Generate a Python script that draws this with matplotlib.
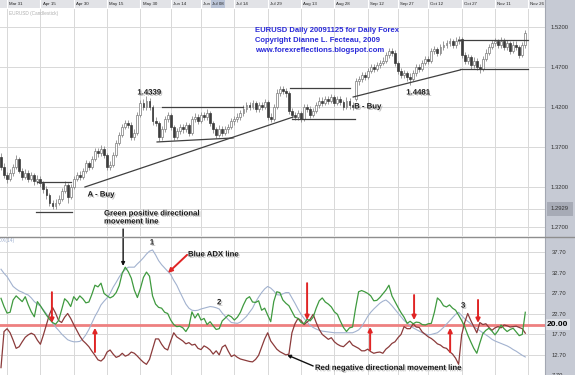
import numpy as np
import pandas as pd
import matplotlib
matplotlib.use("Agg")
import matplotlib.pyplot as plt
import matplotlib.patheffects as pe
from matplotlib.patches import Rectangle
from matplotlib.lines import Line2D

plt.rcParams['font.family'] = ['Liberation Sans', 'DejaVu Sans']

# EURUSD daily candles, 27 Mar 2009 .. 25 Nov 2009
opens = [
    1.358, 1.345, 1.335, 1.330, 1.338, 1.345, 1.355, 1.340, 1.333, 1.338,
    1.330, 1.335, 1.327, 1.330, 1.325, 1.318, 1.310, 1.300, 1.296, 1.300,
    1.305, 1.315, 1.322, 1.308, 1.320, 1.330, 1.335, 1.333, 1.340, 1.350,
    1.345, 1.355, 1.365, 1.362, 1.368, 1.360, 1.345, 1.348, 1.360, 1.375,
    1.385, 1.395, 1.400, 1.398, 1.383, 1.388, 1.410, 1.425, 1.420, 1.428,
    1.420, 1.402, 1.400, 1.382, 1.392, 1.405, 1.410, 1.395, 1.383, 1.390,
    1.395, 1.392, 1.397, 1.388, 1.405, 1.408, 1.403, 1.410, 1.408, 1.412,
    1.400, 1.392, 1.385, 1.393, 1.388, 1.392, 1.395, 1.402, 1.405, 1.408,
    1.412, 1.418, 1.422, 1.420, 1.425, 1.418, 1.422, 1.420, 1.426, 1.408,
    1.405, 1.420, 1.438, 1.442, 1.440, 1.437, 1.415, 1.410, 1.408, 1.412,
    1.405, 1.420, 1.418, 1.410, 1.415, 1.422, 1.428, 1.425, 1.430, 1.428,
    1.432, 1.425, 1.430, 1.426, 1.420, 1.428, 1.422, 1.430, 1.452, 1.455,
    1.460, 1.458, 1.465, 1.470, 1.468, 1.472, 1.475, 1.478, 1.485, 1.490,
    1.488, 1.475, 1.465, 1.460, 1.462, 1.458, 1.455, 1.462, 1.470, 1.468,
    1.475, 1.480, 1.478, 1.490, 1.492, 1.488, 1.495, 1.498, 1.500, 1.502,
    1.498, 1.503, 1.505, 1.485, 1.478, 1.482, 1.472, 1.478, 1.470, 1.468,
    1.480, 1.488, 1.495, 1.500, 1.502, 1.498, 1.503, 1.495, 1.500, 1.490,
    1.498, 1.495, 1.485, 1.497]
highs = [
    1.362, 1.350, 1.339, 1.342, 1.349, 1.360, 1.358, 1.344, 1.342, 1.341,
    1.339, 1.338, 1.335, 1.334, 1.328, 1.321, 1.313, 1.304, 1.305, 1.310,
    1.319, 1.327, 1.325, 1.324, 1.334, 1.339, 1.340, 1.344, 1.354, 1.353,
    1.359, 1.369, 1.369, 1.372, 1.371, 1.363, 1.353, 1.364, 1.379, 1.389,
    1.399, 1.404, 1.404, 1.401, 1.393, 1.414, 1.429, 1.430, 1.4339, 1.431,
    1.423, 1.407, 1.403, 1.396, 1.409, 1.414, 1.413, 1.398, 1.394, 1.399,
    1.399, 1.401, 1.400, 1.409, 1.412, 1.411, 1.414, 1.414, 1.417, 1.415,
    1.403, 1.395, 1.397, 1.396, 1.396, 1.399, 1.406, 1.409, 1.412, 1.416,
    1.422, 1.426, 1.426, 1.429, 1.428, 1.426, 1.426, 1.430, 1.429, 1.412,
    1.424, 1.442, 1.446, 1.446, 1.444, 1.440, 1.419, 1.414, 1.416, 1.415,
    1.424, 1.424, 1.421, 1.419, 1.426, 1.432, 1.432, 1.434, 1.434, 1.436,
    1.435, 1.434, 1.434, 1.429, 1.432, 1.431, 1.426, 1.456, 1.459, 1.464,
    1.464, 1.469, 1.474, 1.474, 1.476, 1.479, 1.482, 1.489, 1.494, 1.494,
    1.491, 1.478, 1.469, 1.466, 1.465, 1.462, 1.466, 1.474, 1.474, 1.479,
    1.484, 1.484, 1.494, 1.496, 1.495, 1.499, 1.502, 1.504, 1.506, 1.505,
    1.507, 1.509, 1.508, 1.489, 1.486, 1.485, 1.482, 1.481, 1.474, 1.484,
    1.492, 1.499, 1.504, 1.506, 1.505, 1.507, 1.506, 1.504, 1.503, 1.502,
    1.502, 1.498, 1.501, 1.516]
lows = [
    1.341, 1.331, 1.325, 1.327, 1.334, 1.342, 1.337, 1.329, 1.330, 1.326,
    1.327, 1.323, 1.324, 1.320, 1.313, 1.305, 1.296, 1.2929, 1.293, 1.297,
    1.302, 1.312, 1.300, 1.305, 1.317, 1.327, 1.329, 1.330, 1.337, 1.341,
    1.342, 1.352, 1.358, 1.359, 1.356, 1.341, 1.341, 1.345, 1.357, 1.372,
    1.382, 1.392, 1.394, 1.379, 1.379, 1.385, 1.407, 1.416, 1.416, 1.416,
    1.398, 1.396, 1.378, 1.379, 1.389, 1.401, 1.391, 1.379, 1.380, 1.386,
    1.388, 1.389, 1.384, 1.385, 1.401, 1.399, 1.400, 1.404, 1.404, 1.396,
    1.388, 1.381, 1.382, 1.384, 1.385, 1.388, 1.392, 1.398, 1.401, 1.404,
    1.409, 1.414, 1.416, 1.417, 1.414, 1.414, 1.416, 1.417, 1.404, 1.401,
    1.402, 1.417, 1.434, 1.436, 1.433, 1.411, 1.406, 1.404, 1.404, 1.401,
    1.402, 1.414, 1.406, 1.407, 1.412, 1.419, 1.421, 1.422, 1.424, 1.425,
    1.421, 1.422, 1.422, 1.416, 1.417, 1.418, 1.416, 1.428, 1.448, 1.451,
    1.454, 1.455, 1.462, 1.464, 1.465, 1.469, 1.472, 1.475, 1.481, 1.484,
    1.471, 1.461, 1.456, 1.456, 1.453, 1.4481, 1.452, 1.459, 1.464, 1.465,
    1.472, 1.474, 1.475, 1.486, 1.484, 1.485, 1.491, 1.494, 1.496, 1.494,
    1.494, 1.499, 1.481, 1.474, 1.474, 1.468, 1.469, 1.466, 1.463, 1.465,
    1.477, 1.485, 1.492, 1.496, 1.494, 1.494, 1.491, 1.491, 1.486, 1.487,
    1.491, 1.481, 1.482, 1.494]
closes = [
    1.345, 1.335, 1.330, 1.338, 1.345, 1.355, 1.340, 1.333, 1.338, 1.330,
    1.335, 1.327, 1.330, 1.325, 1.318, 1.310, 1.300, 1.296, 1.300, 1.305,
    1.315, 1.322, 1.308, 1.320, 1.330, 1.335, 1.333, 1.340, 1.350, 1.345,
    1.355, 1.365, 1.362, 1.368, 1.360, 1.345, 1.348, 1.360, 1.375, 1.385,
    1.395, 1.400, 1.398, 1.383, 1.388, 1.410, 1.425, 1.420, 1.428, 1.420,
    1.402, 1.400, 1.382, 1.392, 1.405, 1.410, 1.395, 1.383, 1.390, 1.395,
    1.392, 1.397, 1.388, 1.405, 1.408, 1.403, 1.410, 1.408, 1.412, 1.400,
    1.392, 1.385, 1.393, 1.388, 1.392, 1.395, 1.402, 1.405, 1.408, 1.412,
    1.418, 1.422, 1.420, 1.425, 1.418, 1.422, 1.420, 1.426, 1.408, 1.405,
    1.420, 1.438, 1.442, 1.440, 1.437, 1.415, 1.410, 1.408, 1.412, 1.405,
    1.420, 1.418, 1.410, 1.415, 1.422, 1.428, 1.425, 1.430, 1.428, 1.432,
    1.425, 1.430, 1.426, 1.420, 1.428, 1.422, 1.420, 1.452, 1.455, 1.460,
    1.458, 1.465, 1.470, 1.468, 1.472, 1.475, 1.478, 1.485, 1.490, 1.488,
    1.475, 1.465, 1.460, 1.462, 1.458, 1.455, 1.462, 1.470, 1.468, 1.475,
    1.480, 1.478, 1.490, 1.492, 1.488, 1.495, 1.498, 1.500, 1.502, 1.498,
    1.503, 1.505, 1.485, 1.478, 1.482, 1.472, 1.478, 1.470, 1.468, 1.480,
    1.488, 1.495, 1.500, 1.502, 1.498, 1.503, 1.495, 1.500, 1.490, 1.498,
    1.495, 1.485, 1.497, 1.512]

# DMI(14)
plus_di = [
    26.4, 24.4, 22.8, 23.0, 26.0, 27.0, 26.3, 25.6, 26.8, 24.8,
    23.1, 21.9, 25.6, 24.6, 23.4, 22.3, 21.3, 20.5, 20.1, 21.0,
    23.6, 26.3, 25.6, 24.4, 26.8, 25.9, 27.0, 26.3, 25.3, 25.5,
    27.4, 29.6, 29.2, 30.1, 27.6, 27.0, 26.5, 26.9, 27.8, 29.5,
    32.5, 34.0, 32.9, 31.3, 28.4, 26.6, 28.8, 31.5, 32.8, 31.8,
    27.0, 25.0, 24.2, 24.0, 23.0, 22.7, 21.1, 20.0, 19.5, 19.6,
    19.2, 18.3, 19.5, 23.1, 21.6, 22.7, 21.1, 21.5, 20.0, 20.7,
    19.7, 18.8, 19.0, 20.9, 21.6, 22.3, 21.9, 21.1, 21.8, 23.0,
    24.8, 26.3, 26.8, 25.5, 25.4, 25.8, 23.5, 24.0, 22.3, 20.7,
    25.6, 28.0, 27.8, 26.0, 25.2, 24.6, 23.2, 21.8, 21.5, 20.5,
    20.2, 21.3, 20.9, 21.8, 24.0, 25.8, 26.5, 25.5, 25.0, 24.3,
    23.1, 22.5, 20.8, 19.3, 18.3, 19.2, 19.4, 24.0, 28.0, 28.3,
    28.0, 27.6, 27.0, 25.8, 25.9, 26.6, 27.5, 28.4, 29.6, 27.0,
    25.6, 24.2, 22.9, 21.8, 20.3, 20.8, 20.2, 20.6, 20.5, 20.0,
    19.9, 20.2, 20.3, 23.0, 26.5, 25.8, 24.6, 24.3, 24.8, 24.0,
    23.5, 22.3, 21.0, 19.5, 17.5, 15.8, 14.2, 13.0, 15.5, 17.8,
    18.6, 19.1, 18.4, 17.5, 18.5, 19.9, 19.0, 18.3, 18.8, 19.1,
    18.2, 17.3, 17.6, 23.0]
minus_di = [
    9.5, 18.3, 19.0, 18.0, 16.2, 14.2, 14.6, 15.8, 16.9, 17.5,
    17.9, 17.5, 16.2, 15.2, 17.5, 20.0, 22.5, 24.2, 22.8, 21.0,
    20.5, 21.8, 22.7, 21.5, 20.0, 18.6, 17.2, 16.1, 15.4, 14.6,
    13.5, 12.5, 11.4, 11.1, 11.8, 13.3, 13.8, 12.8, 12.0, 12.3,
    13.0, 12.3, 12.6, 13.3, 13.0, 12.3, 11.5, 10.8, 10.3, 11.5,
    14.0, 16.5, 16.5, 15.2, 14.2, 13.8, 16.0, 18.0, 17.0, 16.5,
    16.0, 15.3, 15.6, 15.0, 15.2, 14.2, 13.9, 14.8, 14.4, 13.8,
    12.8, 13.6, 12.6, 14.5, 15.0, 13.5, 12.2, 12.6, 12.0, 11.6,
    11.4, 11.2, 11.0, 10.9, 11.5, 12.5, 14.5, 16.5, 18.0, 16.0,
    15.0, 14.0, 13.4, 13.0, 12.6, 12.8, 18.0, 20.2, 21.5, 21.0,
    20.0, 20.6, 21.3, 22.5, 20.5, 18.8, 17.6, 17.0, 16.4, 16.8,
    15.8, 15.2, 14.8, 14.6, 15.3, 16.0, 15.0, 14.6, 14.2, 13.6,
    13.6, 14.0, 13.4, 13.0, 13.2, 13.3, 13.0, 14.0, 14.6, 15.4,
    15.8, 16.8, 17.6, 19.5, 19.0, 19.0, 20.2, 19.4, 19.3, 18.2,
    17.6, 17.0, 16.6, 16.0, 15.3, 15.0, 14.4, 14.2, 13.4, 12.8,
    11.8, 10.3, 17.5, 20.5, 22.7, 21.0, 19.5, 18.0, 20.5, 20.0,
    20.2, 19.3, 18.6, 19.2, 19.5, 19.2, 19.9, 19.7, 19.4, 19.5,
    19.6, 19.3, 19.0, 17.9]
adx = [
    33.5, 32.5, 31.7, 30.5, 29.3, 28.7, 28.2, 27.9, 27.5, 27.2,
    26.5, 25.6, 25.0, 24.5, 23.6, 22.6, 21.7, 20.4, 19.4, 18.6,
    17.7, 17.0, 16.3, 16.0, 15.8, 15.8, 15.9, 16.5, 17.5, 18.8,
    20.4, 22.0, 23.3, 24.8, 25.7, 26.5, 27.6, 29.1, 30.3, 31.6,
    32.7, 33.4, 34.0, 34.0, 34.0, 34.8, 35.5, 36.3, 37.2, 37.9,
    38.2, 37.0, 35.6, 34.6, 33.8, 33.0, 32.2, 30.8, 29.6, 28.0,
    26.5, 25.0, 24.0, 23.5, 23.4, 23.5, 23.8, 24.0, 24.2, 24.4,
    24.3, 24.1, 23.8, 22.8, 22.0, 21.2, 20.5, 20.4, 20.3, 20.6,
    21.3, 22.0, 23.0, 24.0, 25.5, 26.7, 27.8, 28.7, 29.3, 28.9,
    28.2, 27.3, 27.2, 27.5, 27.8, 27.8, 26.5, 25.2, 23.8, 22.5,
    21.5, 20.6, 19.8, 19.3, 18.9, 18.6, 18.4, 18.3, 18.2, 18.1,
    18.0, 18.0, 18.0, 18.0, 18.0, 18.0, 18.0, 18.3, 18.7, 19.5,
    20.7, 22.0, 23.0, 23.8, 24.5, 25.2, 25.7, 26.0, 25.4, 24.6,
    23.7, 22.8, 21.9, 21.0, 20.4, 19.8, 19.2, 18.8, 18.4, 18.0,
    17.7, 17.5, 17.6, 17.8, 18.0, 18.6, 19.3, 20.1, 20.9, 21.7,
    22.5, 23.0, 22.2, 21.4, 20.8, 20.2, 19.5, 19.0, 18.5, 18.0,
    17.5, 17.0, 16.4, 16.0, 15.7, 15.4, 15.1, 14.8, 14.4, 13.9,
    13.5, 13.0, 12.5, 12.1]

price_ticks = [1.27, 1.32, 1.37, 1.42, 1.47, 1.52]
dmi_ticks = [7.7, 12.7, 17.7, 22.7, 27.7, 32.7, 37.7]
date_labels = ['Mar 31', 'Apr 15', 'Apr 30', 'May 15', 'May 30', 'Jun 14', 'Jun 29', 'Jul 14',
               'Jul 29', 'Aug 13', 'Aug 28', 'Sep 12', 'Sep 27', 'Oct 12', 'Oct 27', 'Nov 11', 'Nov 26']

n = len(closes)
idx = np.arange(n)
dates = pd.bdate_range('2009-03-27', periods=n + 10)
tick_pos = dates.searchsorted(pd.to_datetime([d + ' 2009' for d in date_labels], format='%b %d %Y'))
jul08 = dates.searchsorted(pd.Timestamp('2009-07-08'))

W, H = 575, 375
fig = plt.figure(figsize=(W / 100, H / 100), dpi=100)
fig.patch.set_facecolor('white')

def fx(px):
    return px / W

def fy(py):
    return 1 - py / H

ax = fig.add_axes([0, fy(236), fx(545), (236 - 8) / H])
ax2 = fig.add_axes([0, 0, fx(545), (375 - 237) / H])

# right hand axis column + panel separator
fig.add_artist(Rectangle((fx(545), 0), fx(30), 1, transform=fig.transFigure,
                         fc='#c6cad4', ec='none', zorder=-1))
fig.add_artist(Line2D([fx(545), fx(545)], [0, 1], transform=fig.transFigure, color='#a3a7b2', lw=0.8))
fig.add_artist(Line2D([0, 1], [fy(236.5)] * 2, transform=fig.transFigure, color='#8e8e8e', lw=1.0))

xlim = (-0.33, 179.5)
grid_c = '#d8d8d8'

# ---- price panel
o = np.array(opens)
c = np.array(closes)
up = c >= o
ax.vlines(idx, lows, highs, color='#8a8a8a', lw=0.6, zorder=2)
ax.bar(idx[up], (c - o)[up], bottom=o[up], width=0.62, color='white', edgecolor='#7a7a7a', lw=0.5, zorder=3)
ax.bar(idx[~up], (o - c)[~up], bottom=c[~up], width=0.62, color='#3c3c3c', edgecolor='#3c3c3c', lw=0.5, zorder=3)

ax.set_xlim(*xlim)
ax.set_ylim(1.25875, 1.54375)
ax.set_xticks([])
ax.set_yticks(price_ticks)
ax.yaxis.tick_right()
ax.yaxis.set_major_formatter(matplotlib.ticker.FormatStrFormatter('%.4f'))
ax.tick_params(axis='y', length=0, pad=4, labelsize=4.2, labelcolor='#333333')
ax.grid(axis='y', color=grid_c, lw=0.7, zorder=0)
ax.axhline(1.2929, color=grid_c, lw=0.7, zorder=0)
for s in ax.spines.values():
    s.set_visible(False)
ax.text(560 / 545, 1.2929, '1.2929', transform=ax.get_yaxis_transform(), ha='center', va='center',
        fontsize=4.2, color='#333333', clip_on=False,
        bbox=dict(boxstyle='square,pad=0.75', fc='#a7abb6', ec='none'))

# date strip along the top
strip_h = 8 / 228
ax.add_patch(Rectangle((0, 1), 1, strip_h, transform=ax.transAxes, fc='#e2e3e7', ec='none', clip_on=False))
ax.add_patch(Rectangle((1, 1), 30 / 545, strip_h, transform=ax.transAxes, fc='#c6cad4', ec='none', clip_on=False))
xt = ax.get_xaxis_transform()
for p, lab in zip(tick_pos, date_labels):
    ax.axvline(p, color=grid_c, lw=0.7, zorder=0)
    ax2.axvline(p, color=grid_c, lw=0.7, zorder=0)
    ax.plot([p, p], [1, 1 + strip_h], transform=xt, color='white', lw=0.8, clip_on=False)
    ax.text(p + 0.7, 1 + strip_h / 2, lab, transform=xt, fontsize=3.2, ha='left', va='center',
            color='#222222', clip_on=False)
ax.text(jul08 - 1.4, 1 + strip_h / 2, 'Jul 08', transform=xt, fontsize=3.2, ha='center', va='center',
        color='#222222', clip_on=False, bbox=dict(boxstyle='square,pad=0.35', fc='#b9c3d6', ec='none'))
ax.text(18.8, 0.978, 'EURUSD (Candlestick)', transform=xt, fontsize=3.4, ha='right', va='center',
        color='#b0b0b0')

# chart notes
blue = '#2a2ad8'
ax.text(83.8, 1.515, 'EURUSD Daily 20091125 for Daily Forex', color=blue, fontsize=5.5,
        fontweight='bold', ha='left', va='center')
ax.text(83.8, 1.5025, 'Copyright Dianne L. Fecteau, 2009', color=blue, fontsize=5.5,
        fontweight='bold', ha='left', va='center')
ax.text(83.8, 1.4905, 'www.forexreflections.blogspot.com', color=blue, fontsize=5.5,
        fontweight='bold', ha='left', va='center')

shadow = [pe.withSimplePatchShadow(offset=(1, -1), shadow_rgbFace='#8c8c8c', alpha=0.5)]
for xi, yi, s in [(48.9, 1.4375, '1.4339'), (33.0, 1.310, 'A - Buy'),
                  (121.0, 1.420, 'B - Buy'), (137.6, 1.4375, '1.4481')]:
    ax.text(xi, yi, s, fontsize=5.6, fontweight='bold', color='#1a1a1a', ha='center', va='center',
            path_effects=shadow)

line_c = '#404040'
for xs, ys in [([11.9, 23.1], [1.3263, 1.3263]),      # box over April low
               ([11.6, 23.4], [1.2885, 1.2885]),
               ([27.7, 96.4], [1.3200, 1.4075]),      # trendline A
               ([53.1, 79.9], [1.4200, 1.4200]),      # June/July triangle
               ([51.5, 76.6], [1.3763, 1.3813]),
               ([95.4, 115.2], [1.4438, 1.4438]),     # August range
               ([96.0, 116.8], [1.4050, 1.4050]),
               ([116.2, 151.5], [1.4325, 1.4663]),    # trendline B
               ([150.8, 174.0], [1.5038, 1.5038]),    # Oct/Nov range
               ([151.5, 174.0], [1.4675, 1.4675])]:
    ax.plot(xs, ys, color=line_c, lw=0.9, zorder=4)

# ---- DMI panel
ax2.axhline(20, color='#ee8080', lw=2, zorder=1.5)
ax2.plot(idx, adx, color='#a2b2cf', lw=0.8, zorder=2)
ax2.plot(idx, minus_di, color='#8b3b3b', lw=0.9, zorder=2.2)
ax2.plot(idx, plus_di, color='#3f9a3f', lw=0.9, zorder=2.4)

ax2.set_xlim(*xlim)
ax2.set_ylim(7.7, 41.36)
ax2.set_xticks([])
ax2.set_yticks(dmi_ticks)
ax2.yaxis.tick_right()
ax2.yaxis.set_major_formatter(matplotlib.ticker.FormatStrFormatter('%.2f'))
ax2.tick_params(axis='y', length=0, pad=5, labelsize=4.2, labelcolor='#333333')
ax2.grid(axis='y', color=grid_c, lw=0.7, zorder=0)
for s in ax2.spines.values():
    s.set_visible(False)
ax2.text(546.5 / 545, 20, '20.00', transform=ax2.get_yaxis_transform(), ha='left', va='center',
         fontsize=6.0, fontweight='bold', color='black', clip_on=False, zorder=6,
         bbox=dict(boxstyle='square,pad=0.2', fc='#dfe2e8', ec='none'))
ax2.text(4.6, 40.4, 'ADX(14)', fontsize=3.6, ha='right', va='center', color='#9fb0d0')

ax2.text(34, 46.0, 'Green positive directional\nmovement line', fontsize=5.6, fontweight='bold',
         color='#1a1a1a', ha='left', va='center', linespacing=1.2, clip_on=False, path_effects=shadow)
ax2.text(61.7, 37.0, 'Blue ADX line', fontsize=5.6, fontweight='bold', color='#1a1a1a',
         ha='left', va='center', path_effects=shadow)
ax2.text(103.6, 9.3, 'Red negative directional movement line', fontsize=5.6, fontweight='bold',
         color='#1a1a1a', ha='left', va='center', path_effects=shadow)
for xi, yi, s in [(49.8, 39.9, '1'), (72.0, 25.3, '2'), (152.5, 24.5, '3')]:
    ax2.text(xi, yi, s, fontsize=5.6, fontweight='bold', color='#1a1a1a', ha='center', va='center',
             path_effects=shadow)

black_arrow = dict(arrowstyle='-|>', color='#111111', lw=1.0, mutation_scale=5, shrinkA=0, shrinkB=0)
red_arrow = dict(arrowstyle='-|>', color='#e02525', lw=1.4, mutation_scale=6, shrinkA=0, shrinkB=0)
ax2.annotate('', xy=(40.3, 34.3), xytext=(40.3, 43.3), arrowprops=black_arrow, annotation_clip=False)
ax2.annotate('', xy=(94.4, 12.6), xytext=(103.0, 9.9), arrowprops=black_arrow, annotation_clip=False)
ax2.annotate('', xy=(55.1, 32.6), xytext=(61.4, 37.0), arrowprops=red_arrow, annotation_clip=False)

# crossing signals
for xi, tail, tip in [(16.8, 27.9, 20.4), (31.0, 13.3, 19.2), (101.0, 30.1, 21.1),
                      (121.8, 13.8, 19.4), (136.3, 27.2, 21.1), (148.2, 13.3, 19.2),
                      (157.4, 26.0, 20.4)]:
    ax2.annotate('', xy=(xi, tip), xytext=(xi, tail), arrowprops=red_arrow)

fig.savefig('out.png', dpi=100)
